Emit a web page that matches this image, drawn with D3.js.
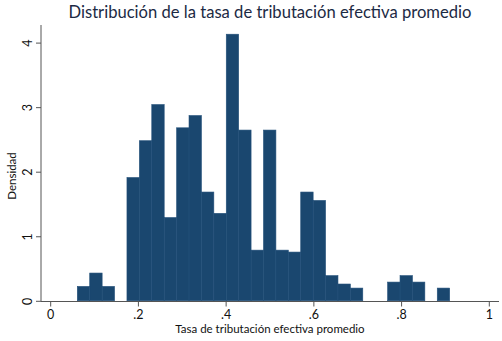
<!DOCTYPE html>
<html>
<head>
<meta charset="utf-8">
<script src="https://cdn.jsdelivr.net/npm/d3@7"></script>
<style>
  html, body { margin: 0; padding: 0; background: #fff; }
  svg { display: block; }
  text { font-family: Lato, "Open Sans", "DejaVu Sans", sans-serif; }
</style>
</head>
<body>
<svg id="chart" width="502" height="341"></svg>
<script>
// Histogram of the average effective tax rate (density scale)
const binStart = 0.0618;
const binWidth = 0.0283;
const densities = [0.223, 0.43, 0.223, 0, 1.91, 2.48, 3.04, 1.29, 2.68, 2.87,
                   1.685, 1.355, 4.13, 2.645, 0.785, 2.645, 0.785, 0.755, 1.685, 1.555,
                   0.39, 0.26, 0.197, 0, 0, 0.29, 0.39, 0.29, 0, 0.197];
const xTicks = [0, 0.2, 0.4, 0.6, 0.8, 1];
const xTickLabels = ["0", ".2", ".4", ".6", ".8", "1"];
const yTicks = [0, 1, 2, 3, 4];
const titleText = "Distribución de la tasa de tributación efectiva promedio";
const xTitle = "Tasa de tributación efectiva promedio";
const yTitle = "Densidad";

const svg = d3.select("#chart");
const x = d3.scaleLinear().domain([0, 1]).range([50.2, 488.8]);
const y = d3.scaleLinear().domain([0, 4]).range([300.8, 42.6]);

const bins = densities.map((d, i) => ({
  x0: binStart + i * binWidth,
  x1: binStart + (i + 1) * binWidth,
  d
})).filter(b => b.d > 0);

// bars
svg.append("g").selectAll("rect").data(bins).join("rect")
  .attr("x", b => x(b.x0))
  .attr("width", b => x(b.x1) - x(b.x0))
  .attr("y", b => y(b.d))
  .attr("height", b => y(0) - y(b.d))
  .attr("fill", "#1a476f")
  .attr("stroke", "#23507a")
  .attr("stroke-width", 0.6);

// x axis
const axisColor = "#555";
const xAxis = svg.append("g").attr("transform", "translate(0,301.5)")
  .call(d3.axisBottom(x).tickValues(xTicks).tickFormat((d, i) => xTickLabels[i])
        .tickSize(5).tickPadding(4).tickSizeOuter(0));
xAxis.select(".domain").remove();
xAxis.append("line").attr("x1", 41).attr("x2", 499).attr("stroke", axisColor);
xAxis.selectAll(".tick line").attr("stroke", axisColor);
xAxis.selectAll(".tick text").attr("fill", "#111").style("font-size", "12.5px")
  .style("font-family", "Lato, 'Open Sans', sans-serif");

// y axis
const yAxis = svg.append("g").attr("transform", "translate(41,0)")
  .call(d3.axisLeft(y).tickValues(yTicks).tickFormat(d3.format("d"))
        .tickSize(5).tickSizeOuter(0));
yAxis.select(".domain").remove();
yAxis.append("line").attr("y1", 25).attr("y2", 301.5).attr("stroke", axisColor);
yAxis.selectAll(".tick line").attr("stroke", axisColor);
yAxis.selectAll(".tick text")
  .attr("x", 0).attr("dy", 0)
  .attr("transform", "translate(-9,0) rotate(-90)")
  .attr("text-anchor", "middle")
  .attr("fill", "#111").style("font-size", "12.5px")
  .style("font-family", "Lato, 'Open Sans', sans-serif");

// titles
svg.append("text").attr("x", 270).attr("y", 333).attr("text-anchor", "middle")
  .attr("fill", "#111").style("font-size", "11.5px").text(xTitle);
svg.append("text").attr("transform", "translate(16,176) rotate(-90)")
  .attr("text-anchor", "middle").attr("fill", "#111").style("font-size", "11.5px").text(yTitle);
svg.append("text").attr("x", 270).attr("y", 18).attr("text-anchor", "middle")
  .attr("fill", "#1c2a44").style("font-size", "16.6px").text(titleText);
</script>
</body>
</html>
